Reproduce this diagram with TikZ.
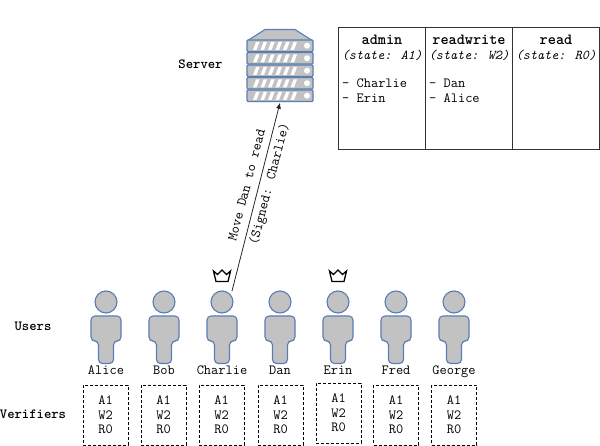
\documentclass[tikz,border=0pt]{standalone}
\usetikzlibrary{arrows.meta}
\definecolor{blueline}{HTML}{5B7DB5}
\definecolor{fillgrey}{HTML}{C2C2C2}
\tikzset{
  every node/.append style={font=\ttfamily},
  txt/.style={font=\fontsize{14}{14.5}\selectfont\ttfamily,inner sep=0pt,anchor=base},
  boldtxt/.style={font=\fontsize{14}{14}\selectfont\ttfamily\bfseries,inner sep=0pt,anchor=base},
  head/.style={font=\fontsize{15.5}{15}\selectfont\ttfamily\bfseries,inner sep=0pt,anchor=base},
  sub/.style={font=\fontsize{13.5}{14}\selectfont\ttfamily\itshape,inner sep=0pt,anchor=base},
  listing/.style={font=\fontsize{14}{15}\selectfont\ttfamily,inner sep=0pt,align=left,anchor=north west},
  vbox/.style={draw=black,densely dashed,line width=0.6pt,minimum width=45pt,minimum height=60pt,inner sep=0pt,align=center,font=\fontsize{14}{14.5}\selectfont\ttfamily},
  headnode/.style={circle,draw=blueline,fill=fillgrey,line width=1.1pt,minimum size=22pt,inner sep=0pt},
  cell/.style={draw=black!80,line width=0.8pt},
  rack/.style={draw=blueline,fill=fillgrey,line width=1.1pt,rounded corners=1pt},
  person/.pic={
    \draw[draw=blueline,fill=fillgrey,line width=1.1pt,rounded corners=4pt]
      (-15,316) -- (15,316) -- (15,341) -- (7.5,341) -- (7.5,363.5) -- (-7.5,363.5) -- (-7.5,341) -- (-15,341) -- cycle;
  },
  crown/.pic={
    \draw[black,line width=1.3pt,line join=miter,fill=white]
      (-8.5,-5) -- (-4.5,-1.5) -- (0,-6) -- (4.5,-1.5) -- (8.5,-5) -- (6,5.5) -- (-6,5.5) -- cycle;
  },
  rackrow/.pic={
    \draw[rack] (-33,0) rectangle (33,11.5);
    \foreach \bx in {-27,-19.5,-12,-4.5,3,10.5}
      \fill[white] (\bx,10) -- (\bx+3,2) -- (\bx+6.5,2) -- (\bx+3.5,10) -- cycle;
    \fill[white] (27,5.7) circle (3);
  }
}
\begin{document}
\begin{tikzpicture}[x=1pt,y=-1pt]
\useasboundingbox (0,0) rectangle (600,446);
% server
\node[minimum width=66pt,minimum height=73pt,inner sep=0pt] (server) at (280,66) {};
\draw[rack,rounded corners=0.5pt] (247,41) -- (265,29.5) -- (295,29.5) -- (313,41) -- cycle;
\foreach \ry in {40,52.5,65,77.5,90}
  \pic at (280,\ry) {rackrow};
\node[boldtxt] (serverlabel) at (200.5,69) {Server};
% table
\node[cell,minimum width=87pt,minimum height=122pt,inner sep=0pt] (admin) at (381.5,88) {};
\node[cell,minimum width=87pt,minimum height=122pt,inner sep=0pt] (readwrite) at (468.5,88) {};
\node[cell,minimum width=87pt,minimum height=122pt,inner sep=0pt] (read) at (555.5,88) {};
\node[head] (h1) at (382,44.5) {admin};
\node[head] (h2) at (469,44.5) {readwrite};
\node[head] (h3) at (556,44.5) {read};
\node[sub] (s1) at (382,59.5) {(state: A1)};
\node[sub] (s2) at (469,59.5) {(state: W2)};
\node[sub] (s3) at (556,59.5) {(state: R0)};
\node[listing] (l1) at (342,79) {- Charlie\\- Erin};
\node[listing] (l2) at (429,79) {- Dan\\- Alice};
% people
\foreach \n/\x/\name in {alice/106/Alice,bob/164/Bob,charlie/222/Charlie,dan/280/Dan,erin/338/Erin,fred/396/Fred,george/454/George}{
  \pic at (\x,0) {person};
  \node[headnode] (\n) at (\x,302) {};
  \node[txt] (\n label) at (\x,375) {\name};
}
\pic at (222,276) {crown};
\pic at (338,276) {crown};
\node[boldtxt] (users) at (33,331) {Users};
\node[boldtxt] (verifiers) at (33,418.5) {Verifiers};
% verifiers
\foreach \n/\x/\y in {v1/105.5/415,v2/163.5/415,v3/221.5/415,v4/280.5/415,v5/338.5/413,v6/396/415,v7/454/415}
  \node[vbox] (\n) at (\x,\y) {A1\\W2\\R0};
% connector
\coordinate (start) at (232,291);
\draw[black!85,line width=0.8pt,-{Latex[length=6pt,width=5pt]}] (start) -- (server.south);
\node[txt,rotate=75.4,anchor=center] (m1) at (246.5,185) {Move Dan to read};
\node[txt,rotate=75.4,anchor=center] (m2) at (270,184) {(Signed: Charlie)};
\end{tikzpicture}
\end{document}
